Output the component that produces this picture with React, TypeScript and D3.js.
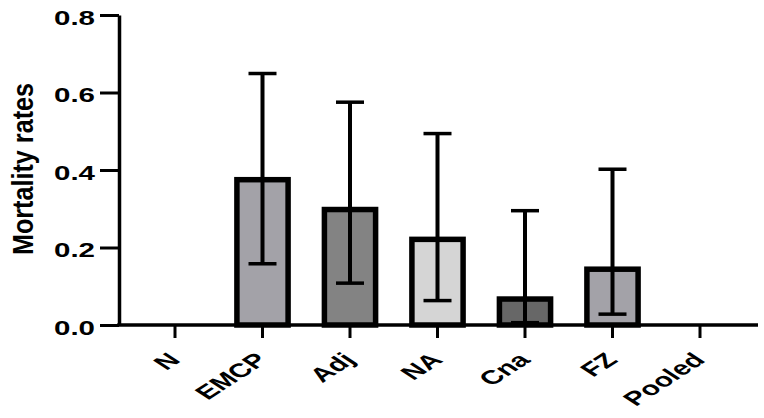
import React, { useEffect, useRef } from 'react';
import * as d3 from 'd3';

// values
const categories = ['N', 'EMCP', 'Adj', 'NA', 'Cna', 'FZ', 'Pooled'];
const means = [0, 0.375, 0.298, 0.221, 0.067, 0.144, 0];
const upperErr = [0, 0.649, 0.575, 0.494, 0.295, 0.402, 0];
const lowerErr = [0, 0.158, 0.108, 0.063, 0.006, 0.028, 0];
const fills = ['#a3a2a8', '#a3a2a8', '#838383', '#d5d5d5', '#676767', '#a3a2a8', '#a3a2a8'];
const yTicks = [0, 0.2, 0.4, 0.6, 0.8];

const W = 764;
const H = 418;
const font = '"Liberation Sans", Arial, sans-serif';
const axisX = 119;
const baseY = 325;

const y = d3.scaleLinear().domain([0, 0.8]).range([baseY, 15]);
const x = d3.scaleBand().domain(categories).range([131.25, 743.75]).padding(0);
const cx = (c: string) => (x(c) as number) + x.bandwidth() / 2;

export default function App() {
  const ref = useRef<SVGGElement>(null);

  useEffect(() => {
    const svg = d3.select(ref.current);
    svg.selectAll('*').remove();

    const barW = x.bandwidth() * 0.585;

    const data = categories.map((c, i) => ({
      c, m: means[i], hi: upperErr[i], lo: lowerErr[i], fill: fills[i],
    })).filter(d => d.m > 0);

    // bars
    svg.append('g')
      .selectAll('rect')
      .data(data)
      .enter()
      .append('rect')
      .attr('x', d => cx(d.c) - barW / 2)
      .attr('y', d => y(d.m))
      .attr('width', barW)
      .attr('height', d => baseY - y(d.m))
      .attr('fill', d => d.fill)
      .attr('stroke', '#000')
      .attr('stroke-width', 5.5);

    // error bars
    const err = svg.append('g').attr('stroke', '#000');
    err.selectAll('line.v')
      .data(data)
      .enter()
      .append('line')
      .attr('class', 'v')
      .attr('x1', d => cx(d.c))
      .attr('x2', d => cx(d.c))
      .attr('y1', d => y(d.hi))
      .attr('y2', d => y(d.lo))
      .attr('stroke-width', 4);
    ['hi', 'lo'].forEach(k => {
      err.selectAll('line.' + k)
        .data(data)
        .enter()
        .append('line')
        .attr('class', k)
        .attr('x1', d => cx(d.c) - 14)
        .attr('x2', d => cx(d.c) + 14)
        .attr('y1', (d: any) => y(d[k]))
        .attr('y2', (d: any) => y(d[k]))
        .attr('stroke-width', 3.5);
    });

    // y axis
    const yAxis = d3.axisLeft(y)
      .tickValues(yTicks)
      .tickFormat(d3.format('.1f'))
      .tickSize(19)
      .tickSizeOuter(0)
      .tickPadding(5);
    const gy = svg.append('g').attr('transform', `translate(${axisX},0)`).call(yAxis);
    gy.select('.domain').attr('stroke-width', 3.5).attr('stroke', '#000');
    gy.selectAll('.tick line').attr('stroke-width', 3).attr('stroke', '#000');
    gy.selectAll('.tick text')
      .attr('font-family', font)
      .attr('font-weight', 'bold')
      .attr('font-size', 20)
      .attr('fill', '#000')
      .attr('dy', '0.45em')
      .attr('textLength', 41)
      .attr('lengthAdjust', 'spacingAndGlyphs');

    // x axis
    const xAxis = d3.axisBottom(x).tickSize(13).tickSizeOuter(0).tickFormat(() => '');
    const gx = svg.append('g').attr('transform', `translate(0,${baseY})`).call(xAxis);
    gx.select('.domain').remove();
    gx.selectAll('.tick line').attr('stroke-width', 3).attr('stroke', '#000');
    svg.append('line')
      .attr('x1', axisX - 1.75)
      .attr('x2', 758)
      .attr('y1', baseY)
      .attr('y2', baseY)
      .attr('stroke', '#000')
      .attr('stroke-width', 3.5);
  }, []);

  return (
    <svg
      width={W}
      height={H}
      style={{ position: 'absolute', left: 0, top: 0, background: '#fff' }}
    >
      <g ref={ref} />
      {/* rotated category labels, stretched sideways like the source */}
      {categories.map(c => (
        <g key={c} transform={`translate(${cx(c) + 6.5} 361) scale(1.54 1)`}>
          <text
            transform="rotate(-45)"
            textAnchor="end"
            fontFamily={font}
            fontWeight="bold"
            fontSize={19.5}
            fill="#000"
          >
            {c}
          </text>
        </g>
      ))}
      <text
        transform="translate(33 169) rotate(-90)"
        textAnchor="middle"
        fontFamily={font}
        fontWeight="bold"
        fontSize={29}
        textLength={172}
        lengthAdjust="spacingAndGlyphs"
        fill="#000"
      >
        Mortality rates
      </text>
    </svg>
  );
}
